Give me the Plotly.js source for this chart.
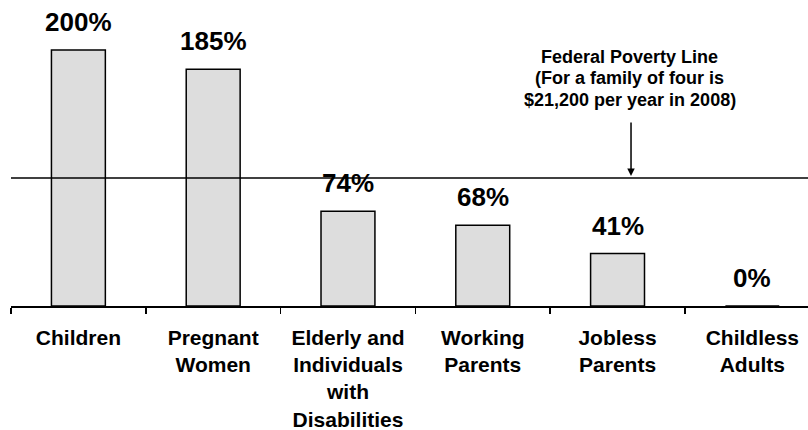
<!DOCTYPE html>
<html>
<head>
<meta charset="utf-8">
<script src="https://cdn.plot.ly/plotly-3.0.1.min.js"></script>
<style>html,body{margin:0;padding:0;background:#fff;}#chart{width:808px;height:430px;}</style>
</head>
<body>
<div id="chart"></div>
<script>
const categories = ["Children", "Pregnant Women", "Elderly and Individuals with Disabilities", "Working Parents", "Jobless Parents", "Childless Adults"];
const tickLabels = ["Children", "Pregnant<br>Women", "Elderly and<br>Individuals<br>with<br>Disabilities", "Working<br>Parents", "Jobless<br>Parents", "Childless<br>Adults"];
const barValues = [200, 185, 74, 63, 41, 0];
const valueLabels = ["200%", "185%", "74%", "68%", "41%", "0%"];
const povertyLine = 100;
const povertyText = ["Federal Poverty Line", "(For a family of four is", "$21,200 per year in 2008)"];

const FONT = 'Arial, "Liberation Sans", sans-serif';

const labelAnns = categories.map((c, i) => ({
  x: c, y: barValues[i], xref: 'x', yref: 'y',
  text: valueLabels[i], showarrow: false,
  yanchor: 'bottom', yshift: 11,
  font: {family: FONT, size: 26, color: '#000', weight: 'bold'}
}));

const noteAnns = povertyText.map((t, i) => ({
  x: 4.09, y: povertyLine, xref: 'x', yref: 'y',
  text: t, showarrow: false,
  xanchor: 'center', yanchor: 'middle',
  yshift: 121 - i * 21.5,
  font: {family: FONT, size: 18, color: '#000', weight: 'bold'}
}));

const arrowAnn = {
  x: 4.1, y: povertyLine, xref: 'x', yref: 'y',
  text: ' ', showarrow: true,
  arrowhead: 2, arrowsize: 1, arrowwidth: 1.5, arrowcolor: '#000',
  ax: 0, ay: -58, standoff: 2,
  font: {family: FONT, size: 2, color: '#000'}
};

const data = [{
  type: 'bar',
  x: categories,
  y: barValues,
  width: 0.4,
  marker: {color: '#dddddd', line: {color: '#000', width: 1.5}},
  hoverinfo: 'none'
}];

const layout = {
  width: 808, height: 430,
  margin: {l: 11, r: 0, t: 0, b: 124},
  paper_bgcolor: '#fff', plot_bgcolor: '#fff',
  showlegend: false,
  xaxis: {
    type: 'category',
    range: [-0.5, 5.413],
    tickvals: categories,
    ticktext: tickLabels,
    tickson: 'boundaries',
    ticks: 'outside', ticklen: 6, tickwidth: 1.5, tickcolor: '#000',
    showline: true, linecolor: '#000', linewidth: 1.5,
    showgrid: false, zeroline: false,
    ticklabelstandoff: 12,
    tickfont: {family: FONT, size: 21, color: '#000', weight: 'bold'},
    fixedrange: true
  },
  yaxis: {
    range: [0, 239],
    visible: false,
    showgrid: false, zeroline: false,
    fixedrange: true
  },
  shapes: [{
    type: 'line', xref: 'paper', yref: 'y',
    x0: 0, x1: 1, y0: povertyLine, y1: povertyLine,
    line: {color: '#000', width: 1.5}
  }],
  annotations: labelAnns.concat(noteAnns, [arrowAnn])
};

Plotly.newPlot('chart', data, layout, {displayModeBar: false, staticPlot: true});
</script>
</body>
</html>
